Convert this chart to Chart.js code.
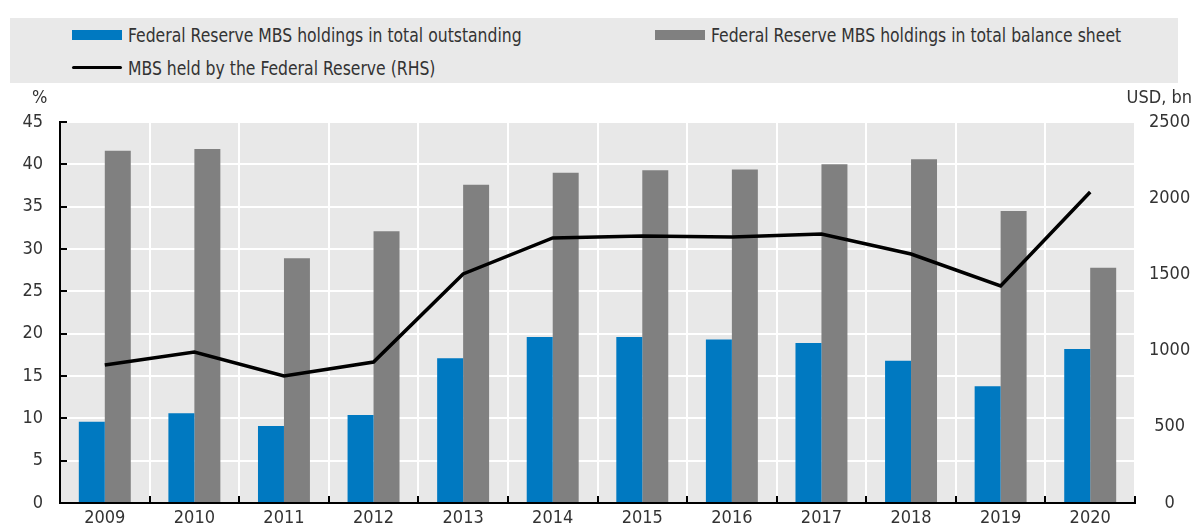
<!DOCTYPE html>
<html>
<head>
<meta charset="utf-8">
<script src="https://cdn.jsdelivr.net/npm/chart.js@4.4.1/dist/chart.umd.min.js"></script>
<style>
    html, body { margin: 0; padding: 0; background: #fff; }
    #wrap {
        position: relative; width: 1198px; height: 531px;
        font-family: 'Liberation Sans Narrow', 'Arial Narrow', 'DejaVu Sans Condensed', sans-serif;
        color: #333;
    }
    #legend { position: absolute; left: 10px; top: 18px; width: 1168px; height: 65px; background: #e9e9e9; }
    .item { position: absolute; font-size: 19px; line-height: 20px; white-space: nowrap; }
    .swatch { display: inline-block; width: 50px; vertical-align: middle; margin-right: 6px; }
    .lbl { display: inline-block; vertical-align: middle; transform: scaleX(0.915); transform-origin: left center; }
    .unit { position: absolute; top: 86px; font-size: 18px; }
    canvas { position: absolute; left: 0; top: 0; }
</style>
</head>
<body>
<div id="wrap">
    <canvas id="chart" width="1198" height="531"></canvas>
    <div id="legend"></div>
    <div class="unit" style="left:32px">%</div>
    <div class="unit" style="right:6px">USD, bn</div>
</div>
<script>
const years = ['2009', '2010', '2011', '2012', '2013', '2014', '2015', '2016', '2017', '2018', '2019', '2020'];
const shareOutstanding = [9.6, 10.6, 9.1, 10.4, 17.1, 19.6, 19.6, 19.3, 18.9, 16.8, 13.8, 18.2];
const shareBalanceSheet = [41.6, 41.8, 28.9, 32.1, 37.6, 39.0, 39.3, 39.4, 40.0, 40.6, 34.5, 27.8];
const mbsHeld = [905, 991, 833, 925, 1503, 1739, 1752, 1745, 1765, 1634, 1424, 2041];
const pctAxis = { min: 0, max: 45, step: 5 };
const usdAxis = { min: 0, max: 2500, step: 500 };

const BLUE = '#0079c1';
const GREY = '#808080';
const TEXT = '#333333';
const FONT = "'Liberation Sans Narrow', 'Arial Narrow', 'DejaVu Sans Condensed', sans-serif";

// grey plot background
const plotBg = {
    id: 'plotBg',
    beforeDraw(chart) {
        const { ctx, chartArea: a } = chart;
        ctx.save();
        ctx.fillStyle = '#e8e8e8';
        ctx.fillRect(a.left, a.top, a.right - a.left, a.bottom - a.top);
        ctx.restore();
    }
};

// small ticks pointing into the plot
const innerTicks = {
    id: 'innerTicks',
    afterDraw(chart) {
        const { ctx, chartArea: a, scales } = chart;
        ctx.save();
        ctx.strokeStyle = '#000';
        ctx.lineWidth = 2;
        ctx.beginPath();
        scales.y.ticks.forEach(t => {
            const y = Math.round(scales.y.getPixelForValue(t.value));
            ctx.moveTo(a.left, y);
            ctx.lineTo(a.left + 7, y);
        });
        const n = scales.x.ticks.length;
        for (let i = 0; i <= n; i++) {
            const x = Math.round(scales.x.getPixelForValue(i - 0.5));
            ctx.moveTo(x, a.bottom);
            ctx.lineTo(x, a.bottom - 7);
        }
        ctx.stroke();
        ctx.restore();
    }
};

const chart = new Chart(document.getElementById('chart'), {
    data: {
        labels: years,
        datasets: [
            {
                type: 'line',
                label: 'MBS held by the Federal Reserve (RHS)',
                data: mbsHeld,
                yAxisID: 'y1',
                borderColor: '#000',
                borderWidth: 3.5,
                pointRadius: 0,
                tension: 0,
                order: 0
            },
            {
                type: 'bar',
                label: 'Federal Reserve MBS holdings in total outstanding',
                data: shareOutstanding,
                yAxisID: 'y',
                backgroundColor: BLUE,
                barPercentage: 1,
                categoryPercentage: 0.58,
                order: 1
            },
            {
                type: 'bar',
                label: 'Federal Reserve MBS holdings in total balance sheet',
                data: shareBalanceSheet,
                yAxisID: 'y',
                backgroundColor: GREY,
                barPercentage: 1,
                categoryPercentage: 0.58,
                order: 2
            }
        ]
    },
    options: {
        responsive: false,
        animation: false,
        layout: { padding: { top: 122, right: 0, bottom: 0, left: 0 } },
        plugins: {
            legend: { display: false },
            tooltip: { enabled: false }
        },
        scales: {
            x: {
                grid: { color: '#fff', lineWidth: 2, offset: true, drawTicks: false },
                border: { color: '#000', width: 2 },
                ticks: { color: TEXT, font: { family: FONT, size: 18 }, padding: 5 },
                afterFit: s => { s.height = 28; }
            },
            y: {
                position: 'left',
                min: pctAxis.min,
                max: pctAxis.max,
                ticks: { stepSize: pctAxis.step, color: TEXT, font: { family: FONT, size: 18 }, padding: 17 },
                grid: { color: '#fff', lineWidth: 2, drawTicks: false },
                border: { color: '#000', width: 2 },
                afterFit: s => { s.width = 60; }
            },
            y1: {
                position: 'right',
                min: usdAxis.min,
                max: usdAxis.max,
                ticks: {
                    stepSize: usdAxis.step, color: TEXT, font: { family: FONT, size: 18 },
                    crossAlign: 'center', padding: 14,
                    callback: v => String(v)
                },
                grid: { display: false, drawTicks: false },
                border: { display: false },
                afterFit: s => { s.width = 63; }
            }
        }
    },
    plugins: [plotBg, innerTicks]
});

// legend built from the chart's datasets
const legendSpots = [
    { idx: 1, left: 62, top: 5 },
    { idx: 2, left: 645, top: 5 },
    { idx: 0, left: 62, top: 38 }
];
const legendEl = document.getElementById('legend');
legendSpots.forEach(spot => {
    const ds = chart.data.datasets[spot.idx];
    const item = document.createElement('div');
    item.className = 'item';
    item.style.left = spot.left + 'px';
    item.style.top = spot.top + 'px';
    const sw = document.createElement('span');
    sw.className = 'swatch';
    if (ds.type === 'line') {
        sw.style.height = '3px';
        sw.style.background = ds.borderColor;
        sw.style.borderRadius = '2px';
    } else {
        sw.style.height = '10px';
        sw.style.background = ds.backgroundColor;
    }
    const txt = document.createElement('span');
    txt.className = 'lbl';
    txt.textContent = ds.label;
    item.appendChild(sw);
    item.appendChild(txt);
    legendEl.appendChild(item);
});
</script>
</body>
</html>
